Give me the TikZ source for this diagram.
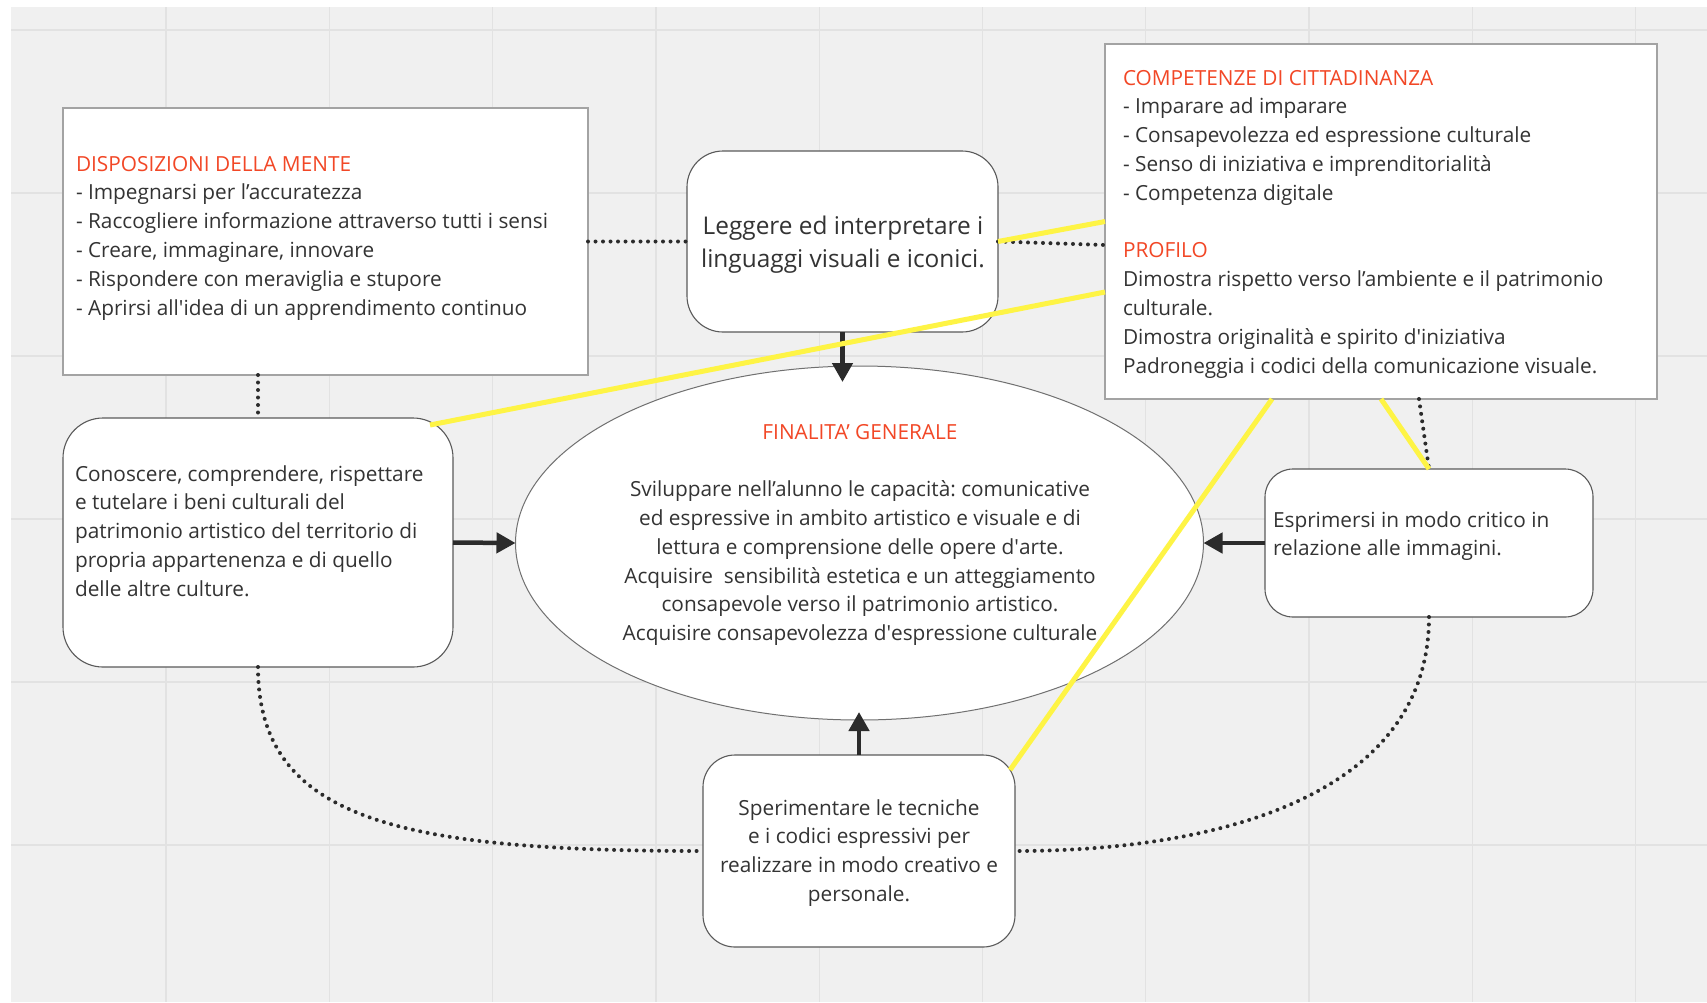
\documentclass[tikz,border=0pt]{standalone}
\usepackage{fontspec}
\setmainfont{Open Sans}
\usetikzlibrary{shapes.geometric,arrows.meta,calc}
\definecolor{bgc}{HTML}{F0F0F0}
\definecolor{gridc}{HTML}{E2E2E2}
\definecolor{txt}{HTML}{333333}
\definecolor{redt}{HTML}{F24726}
\definecolor{yel}{HTML}{FEF445}
\definecolor{arr}{HTML}{2B2B2B}
\definecolor{sqgray}{HTML}{A3A3A3}
\definecolor{rgray}{HTML}{5A5A5A}
\definecolor{egray}{HTML}{707070}
\newcommand{\fnormal}{\fontsize{20.8}{28.8}\selectfont}
\newcommand{\fbig}{\fontsize{24.4}{33}\selectfont}
\newcommand{\aps}{\textquotesingle}
\newcommand{\redhead}[1]{{\color{redt}#1}}
\frenchspacing
\begin{document}
\frenchspacing
\begin{tikzpicture}[x=1pt,y=-1pt,
  sqbox/.style={draw=sqgray, line width=2pt, fill=white, inner sep=0pt, outer sep=0pt},
  rbox/.style={draw=rgray, line width=1.1pt, fill=white, inner sep=0pt, outer sep=0pt, rounded corners=#1},
  ellbox/.style={ellipse, draw=egray, line width=1pt, fill=white, inner sep=0pt, outer sep=0pt},
  txtblock/.style={font=\fnormal\frenchspacing, text=txt, align=left, inner sep=0pt, outer sep=0pt},
  gridline/.style={draw=gridc, line width=1.3pt},
  arrowc/.style={draw=arr, line width=4.5pt, -{Triangle[length=19pt,width=20pt]}},
  dotc/.style={draw=arr, line width=4pt, line cap=round, dash pattern=on 0pt off 7.5pt},
  yline/.style={draw=yel, line width=5pt}
]
\useasboundingbox (0,0) rectangle (1707,1002);
\fill[white] (0,0) rectangle (1707,1002);
\fill[bgc] (11,7) rectangle (1707,1002);
\foreach \i in {0,...,9} \draw[gridline] ({166+163.3*\i},7) -- ({166+163.3*\i},1002);
\foreach \i in {0,...,5} \draw[gridline] (11,{30+163*\i}) -- (1707,{30+163*\i});

% shapes
\node[sqbox, minimum width=525pt, minimum height=267pt] (disp) at (325.5,241.5) {};
\node[rbox=36pt, minimum width=311pt, minimum height=181pt] (leg) at (842.5,241.5) {};
\node[sqbox, minimum width=552pt, minimum height=355pt] (comp) at (1381,221.5) {};
\node[rbox=40pt, minimum width=390pt, minimum height=249pt] (con) at (258,542.5) {};
\node[ellbox, minimum width=688pt, minimum height=354pt] (ell) at (859.5,543) {};
\node[rbox=28pt, minimum width=328pt, minimum height=148pt] (esp) at (1429,543) {};
\node[rbox=32pt, minimum width=312pt, minimum height=192pt] (spe) at (859,851) {};

% texts
\node[txtblock, anchor=north west] (dispt) at (76,151) {\strut\redhead{DISPOSIZIONI DELLA MENTE}\\
- Impegnarsi per l’accuratezza\\
- Raccogliere informazione attraverso tutti i sensi\\
- Creare, immaginare, innovare\\
- Rispondere con meraviglia e stupore\\
- Aprirsi all\aps idea di un apprendimento continuo};

\node[txtblock, font=\fbig, align=center, anchor=north] (legt) at (843,211) {\strut Leggere ed interpretare i\\linguaggi visuali e iconici.};

\node[txtblock, anchor=north west] (compt) at (1123,65) {\strut\redhead{COMPETENZE DI CITTADINANZA}\\
- Imparare ad imparare\\
- Consapevolezza ed espressione culturale\\
- Senso di iniziativa e imprenditorialità\\
- Competenza digitale\\
\mbox{}\\
\redhead{PROFILO}\\
Dimostra rispetto verso l’ambiente e il patrimonio\\
culturale.\\
Dimostra originalità e spirito d\aps iniziativa\\
Padroneggia i codici della comunicazione visuale.};

\node[txtblock, anchor=north west] (cont) at (75,461) {\strut Conoscere, comprendere, rispettare\\
e tutelare i beni culturali del\\
patrimonio artistico del territorio di\\
propria appartenenza e di quello\\
delle altre culture.};

\node[txtblock, align=center, anchor=north] (ellt) at (860,419) {\strut\redhead{FINALITA’ GENERALE}\\
\mbox{}\\
Sviluppare nell’alunno le capacità: comunicative\\
ed espressive in ambito artistico e visuale e di\\
lettura e comprensione delle opere d\aps arte.\\
Acquisire\ \ sensibilità estetica e un atteggiamento\\
consapevole verso il patrimonio artistico.\\
Acquisire consapevolezza d\aps espressione culturale};

\node[txtblock, anchor=north west] (espt) at (1273,507) {\strut Esprimersi in modo critico in\\relazione alle immagini.};

\node[txtblock, align=center, anchor=north] (spet) at (859,795) {\strut Sperimentare le tecniche\\
e i codici espressivi per\\
realizzare in modo creativo e\\
personale.};

% dotted connectors
\draw[dotc] (disp.east) -- (leg.west);
\draw[dotc] (leg.east) -- ($(comp.west)+(0,23.5)$);
\draw[dotc] (con.north |- disp.south) -- (con.north);
\draw[dotc] ($(comp.south)+(38,0)$) -- (esp.north);
\draw[dotc] (esp.south) .. controls (1429,790) and (1230,851) .. (spe.east);
\draw[dotc] (con.south) .. controls (258,820) and (400,851) .. (spe.west);

% arrows
\draw[arrowc, shorten >=-16pt] (leg.south) -- (leg.south |- ell.north);
\draw[arrowc] (con.east) -- (ell.west);
\draw[arrowc] (esp.west) -- (ell.east);
\draw[arrowc, shorten >=-8pt] (spe.north) -- (spe.north |- ell.south);

% yellow connectors
\coordinate (conY) at ($(con.north east)+(-23,7)$);
\coordinate (speY) at ($(spe.north east)+(-5,15)$);
\draw[yline] (leg.east) -- (comp.west);
\draw[yline] (conY) -- ($(comp.west)+(0,70.5)$);
\draw[yline] (speY) -- ($(comp.south)+(-109,0)$);
\draw[yline] (comp.south) -- (esp.north);
\end{tikzpicture}
\end{document}
